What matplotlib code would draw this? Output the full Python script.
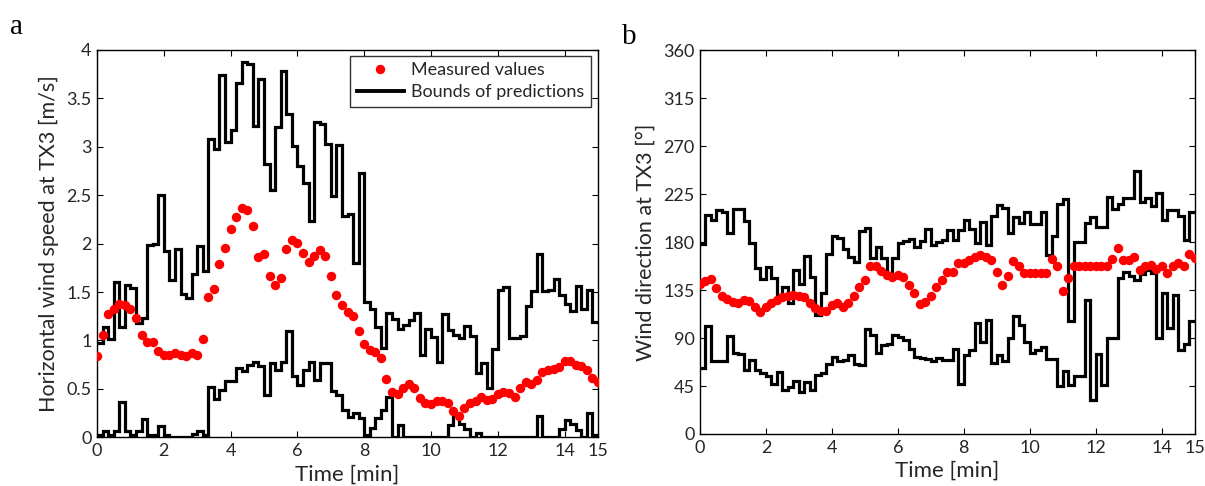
import numpy as np
import matplotlib
matplotlib.use("Agg")
import matplotlib.pyplot as plt

# 10 s sampling over 15 minutes
step_min = 1.0 / 6.0

speed_meas = [0.84, 1.06, 1.27, 1.33, 1.38, 1.37, 1.33, 1.23, 1.06, 0.98,
              0.98, 0.89, 0.85, 0.85, 0.87, 0.85, 0.84, 0.87, 0.85, 1.01,
              1.45, 1.53, 1.79, 1.95, 2.15, 2.27, 2.37, 2.35, 2.18, 1.86,
              1.89, 1.67, 1.57, 1.64, 1.94, 2.04, 2.01, 1.90, 1.81, 1.87,
              1.93, 1.87, 1.67, 1.47, 1.37, 1.29, 1.25, 1.10, 0.96, 0.90,
              0.88, 0.82, 0.60, 0.47, 0.45, 0.51, 0.55, 0.51, 0.41, 0.35,
              0.34, 0.38, 0.37, 0.35, 0.27, 0.22, 0.30, 0.35, 0.37, 0.42,
              0.39, 0.40, 0.45, 0.47, 0.46, 0.42, 0.51, 0.57, 0.55, 0.59,
              0.67, 0.70, 0.71, 0.73, 0.79, 0.79, 0.75, 0.74, 0.70, 0.61,
              0.57]

speed_upper = [0.97, 1.14, 1.02, 1.60, 1.14, 1.57, 1.54, 1.18, 1.23, 1.99,
               2.00, 2.50, 1.92, 1.62, 1.94, 1.48, 1.44, 1.69, 1.98, 1.72,
               3.08, 2.98, 3.74, 3.05, 3.17, 3.66, 3.88, 3.86, 3.21, 3.70,
               2.82, 2.55, 3.20, 3.78, 3.34, 3.01, 2.80, 2.63, 2.23, 3.26,
               3.24, 3.03, 2.49, 3.02, 2.29, 2.31, 1.80, 2.73, 1.40, 1.33,
               1.14, 0.92, 1.28, 1.22, 1.12, 1.16, 1.21, 1.28, 0.85, 1.12,
               1.04, 0.78, 1.27, 1.11, 1.06, 1.03, 1.15, 1.05, 0.66, 0.77,
               0.51, 0.91, 1.52, 1.55, 1.03, 1.03, 1.05, 1.36, 1.51, 1.89,
               1.51, 1.52, 1.63, 1.47, 1.38, 1.30, 1.56, 1.32, 1.52, 1.19]

speed_lower = [0.02, 0.07, 0.02, 0.07, 0.36, 0.07, 0.02, 0.07, 0.19, 0.02,
               0.02, 0.12, 0.02, 0.00, 0.00, 0.00, 0.00, 0.03, 0.07, 0.02,
               0.52, 0.40, 0.49, 0.58, 0.58, 0.72, 0.68, 0.75, 0.78, 0.74,
               0.44, 0.77, 0.70, 0.78, 1.10, 0.63, 0.54, 0.70, 0.78, 0.59,
               0.77, 0.77, 0.48, 0.44, 0.28, 0.21, 0.25, 0.20, 0.02, 0.10,
               0.20, 0.28, 0.42, 0.00, 0.13, 0.00, 0.00, 0.00, 0.00, 0.00,
               0.00, 0.00, 0.00, 0.13, 0.23, 0.14, 0.09, 0.00, 0.04, 0.00,
               0.00, 0.00, 0.00, 0.00, 0.00, 0.00, 0.00, 0.00, 0.00, 0.22,
               0.00, 0.00, 0.00, 0.09, 0.18, 0.14, 0.08, 0.00, 0.25, 0.02]

dir_meas = [140.6, 143.7, 145.0, 137.0, 129.0, 127.0, 124.0, 122.5, 125.6, 125.0,
            119.0, 114.7, 119.0, 123.0, 125.6, 128.0, 129.0, 130.0, 129.0, 128.0,
            122.5, 118.0, 115.0, 115.0, 121.0, 122.5, 119.0, 122.5, 129.0, 137.5,
            144.0, 157.5, 157.5, 153.0, 149.0, 147.0, 149.0, 147.0, 139.7, 132.0,
            122.0, 124.0, 129.0, 137.5, 144.0, 152.0, 152.0, 160.0, 160.0, 163.0,
            165.6, 167.8, 166.0, 163.0, 151.6, 139.7, 148.0, 162.5, 157.5, 151.0,
            151.0, 151.0, 151.0, 151.0, 164.0, 157.5, 134.0, 146.0, 157.5, 157.5,
            157.5, 157.5, 157.5, 157.5, 157.5, 163.8, 174.7, 163.0, 163.0, 166.0,
            153.8, 157.5, 158.4, 155.0, 157.5, 151.0, 157.5, 160.6, 157.5, 168.4,
            164.7]

dir_upper = [178, 205, 201, 210, 208, 188, 211, 211, 200, 179,
             156, 145, 157, 146, 129, 138, 123, 154, 141, 167,
             147, 112, 132, 169, 186, 184, 173, 166, 161, 190,
             193, 165, 175, 165, 149, 165, 179, 181, 183, 175,
             181, 192, 177, 180, 182, 191, 182, 191, 201, 192,
             179, 199, 177, 204, 215, 212, 188, 203, 198, 208,
             197, 197, 208, 168, 186, 216, 220, 106, 180, 180,
             198, 203, 194, 194, 222, 211, 216, 221, 221, 247,
             218, 221, 214, 226, 201, 210, 210, 204, 182, 208]

dir_lower = [62, 101, 68, 68, 68, 92, 76, 75, 60, 69,
             60, 57, 54, 47, 58, 41, 44, 50, 39, 49,
             41, 55, 57, 66, 72, 68, 69, 74, 66, 65,
             98, 93, 76, 83, 84, 93, 91, 88, 80, 72,
             71, 70, 68, 71, 69, 69, 80, 47, 74, 79,
             104, 86, 107, 67, 74, 68, 90, 111, 102, 86,
             76, 79, 82, 70, 70, 45, 59, 46, 54, 54,
             126, 32, 75, 46, 90, 90, 146, 152, 148, 144,
             150, 154, 151, 90, 132, 99, 130, 79, 84, 106]

time_ticks = [0, 2, 4, 6, 8, 10, 12, 14, 15]
speed_ticks = [0, 0.5, 1, 1.5, 2, 2.5, 3, 3.5, 4]
speed_ticklabels = ['0', '0.5', '1', '1.5', '2', '2.5', '3', '3.5', '4']
dir_ticks = [0, 45, 90, 135, 180, 225, 270, 315, 360]

plt.rcParams['font.family'] = ['Lato', 'DejaVu Sans']
txt_col = '#262626'


def step_line(ax, vals):
    # bounds hold for each 10 s interval, repeat the last one to close at 15 min
    v = np.append(vals, vals[-1])
    t = np.arange(len(v)) * step_min
    ax.plot(t, v, color='black', lw=2.3, drawstyle='steps-post',
            solid_joinstyle='miter')


def style_axes(ax):
    ax.set_xlim(0, 15)
    ax.set_xticks(time_ticks)
    ax.tick_params(direction='in', top=True, right=True, length=4,
                   width=0.8, labelsize=13, colors='black', labelcolor=txt_col, pad=4)
    for s in ax.spines.values():
        s.set_linewidth(1.0)
    ax.set_xlabel('Time [min]', fontsize=16, color=txt_col, labelpad=4)


fig = plt.figure(figsize=(12.05, 4.86), dpi=100)
ax1 = fig.add_axes([0.0805, 0.1002, 0.4158, 0.797])
ax2 = fig.add_axes([0.5809, 0.107, 0.4105, 0.790])

# panel a: wind speed
t_meas = np.arange(len(speed_meas)) * step_min
ax1.plot(t_meas, speed_meas, 'o', color='red', ms=6.8, mec='none',
         label='Measured values', zorder=3)
step_line(ax1, speed_lower)
step_line(ax1, speed_upper)
ax1.plot([], [], color='black', lw=2.8, label='Bounds of predictions')
ax1.set_ylim(0, 4)
ax1.set_yticks(speed_ticks)
ax1.set_yticklabels(speed_ticklabels)
style_axes(ax1)
ax1.set_ylabel('Horizontal wind speed at TX3 [m/s]', fontsize=15.5,
               color=txt_col, labelpad=5)
h, l = ax1.get_legend_handles_labels()
leg = ax1.legend([h[0], h[-1]], [l[0], l[-1]], loc='upper right',
                 fontsize=13, frameon=True, fancybox=False,
                 edgecolor='black', borderpad=0.35, handlelength=2.6,
                 handletextpad=0.4, labelspacing=0.35,
                 bbox_to_anchor=(0.985, 0.985), borderaxespad=0)
leg.get_frame().set_linewidth(1.0)
for txt in leg.get_texts():
    txt.set_color(txt_col)

# panel b: wind direction
t_meas = np.arange(len(dir_meas)) * step_min
ax2.plot(t_meas, dir_meas, 'o', color='red', ms=6.8, mec='none', zorder=3)
step_line(ax2, dir_lower)
step_line(ax2, dir_upper)
ax2.set_ylim(0, 360)
ax2.set_yticks(dir_ticks)
style_axes(ax2)
ax2.set_ylabel('Wind direction at TX3 [°]', fontsize=15.5, color=txt_col,
               labelpad=5)

fig.text(0.008, 0.93, 'a', fontsize=21, family='Liberation Serif')
fig.text(0.516, 0.91, 'b', fontsize=21, family='Liberation Serif')

fig.savefig('out.png', dpi=100)
